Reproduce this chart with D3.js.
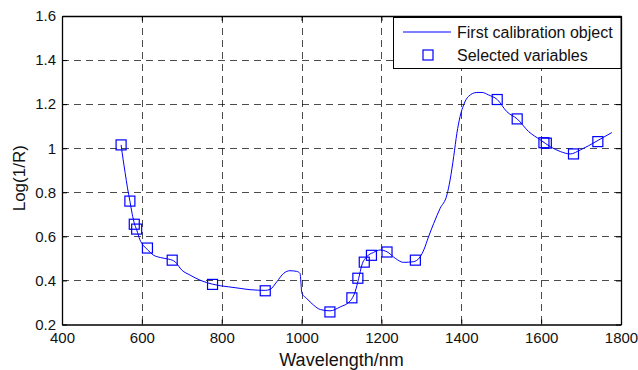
<!DOCTYPE html>
<html>
<head>
<meta charset="utf-8">
<script src="https://cdn.jsdelivr.net/npm/d3@7"></script>
<style>
  html, body { margin: 0; padding: 0; background: #fff; }
  svg { display: block; font-family: "Liberation Sans", Arial, sans-serif; }
</style>
</head>
<body>
<svg id="chart" width="638" height="370"></svg>
<script>
// Spectrum (wavelength nm, log(1/R))
const lineX = [548,553,558,564,570,576,581,587,595,604,614,629,646,666,676,683,700,721,746,777,796,817,846,871,909,921,938,955,971,988,996,1001,1013,1030,1047,1071,1097,1122,1134,1143,1151,1163,1180,1197,1214,1235,1255,1280,1297,1306,1318,1331,1347,1364,1372,1381,1389,1397,1406,1418,1439,1452,1468,1490,1514,1540,1569,1598,1623,1648,1673,1698,1740,1777];
const lineY = [1.015,0.95,0.89,0.82,0.76,0.70,0.66,0.63,0.585,0.558,0.540,0.515,0.504,0.497,0.492,0.485,0.447,0.424,0.401,0.383,0.376,0.371,0.364,0.358,0.355,0.359,0.394,0.432,0.444,0.441,0.432,0.341,0.318,0.288,0.268,0.262,0.280,0.307,0.348,0.409,0.470,0.507,0.527,0.538,0.530,0.500,0.482,0.485,0.507,0.538,0.598,0.659,0.727,0.788,0.856,0.962,1.068,1.144,1.197,1.235,1.253,1.253,1.242,1.221,1.166,1.133,1.075,1.038,1.007,0.985,0.974,0.992,1.033,1.071];
// Selected variables
const selX = [548,570,581,587,614,676,777,909,1071,1126,1141,1157,1175,1214,1285,1490,1540,1607,1613,1681,1742];
const selY = [1.015,0.760,0.655,0.633,0.547,0.492,0.382,0.353,0.257,0.321,0.410,0.483,0.514,0.529,0.492,1.221,1.133,1.025,1.023,0.974,1.030];
const xTicks = [400,600,800,1000,1200,1400,1600,1800];
const yTicks = [0.2,0.4,0.6,0.8,1,1.2,1.4,1.6];
const legendLabels = ["First calibration object", "Selected variables"];

const svg = d3.select("#chart");
const L = 62, R = 621, T = 16, B = 324.5;
const x = d3.scaleLinear().domain([400,1800]).range([L,R]);
const y = d3.scaleLinear().domain([0.2,1.6]).range([B,T]);

// grid
const grid = svg.append("g").attr("stroke","#000").attr("stroke-opacity",0.7)
  .attr("stroke-width",1).attr("stroke-dasharray","7,5").attr("fill","none");
xTicks.slice(1,-1).forEach(v => grid.append("line")
  .attr("x1",Math.round(x(v))+0.5).attr("x2",Math.round(x(v))+0.5).attr("y1",T).attr("y2",B));
yTicks.slice(1,-1).forEach(v => grid.append("line")
  .attr("y1",Math.round(y(v))+0.5).attr("y2",Math.round(y(v))+0.5).attr("x1",L).attr("x2",R));

// axes (MATLAB-like inward ticks on all sides)
const fmtY = d => d3.format("~g")(d);
const axB = svg.append("g").attr("transform",`translate(0,${B})`)
  .call(d3.axisBottom(x).tickValues(xTicks).tickSizeInner(-5).tickSizeOuter(0).tickPadding(8).tickFormat(d3.format("d")));
const axT = svg.append("g").attr("transform",`translate(0,${T})`)
  .call(d3.axisTop(x).tickValues(xTicks).tickSizeInner(-5).tickSizeOuter(0).tickFormat(""));
const axL = svg.append("g").attr("transform",`translate(${L},0)`)
  .call(d3.axisLeft(y).tickValues(yTicks).tickSizeInner(-5).tickSizeOuter(0).tickPadding(6).tickFormat(fmtY));
const axR = svg.append("g").attr("transform",`translate(${R},0)`)
  .call(d3.axisRight(y).tickValues(yTicks).tickSizeInner(-5).tickSizeOuter(0).tickFormat(""));
[axB,axT,axL,axR].forEach(g => {
  g.select(".domain").attr("stroke","#000").attr("stroke-width",1.3);
  g.selectAll(".tick line").attr("stroke","#000");
  g.selectAll("text").attr("font-size",15).attr("fill","#111").attr("font-family","Liberation Sans, Arial, sans-serif");
});

// line
const pts = lineX.map((v,i) => [v, lineY[i]]);
svg.append("path").datum(pts)
  .attr("fill","none").attr("stroke","#0000ff").attr("stroke-width",1)
  .attr("d", d3.line().x(d => x(d[0])).y(d => y(d[1])).curve(d3.curveMonotoneX));

// markers
const ms = 10;
svg.append("g").selectAll("rect").data(selX.map((v,i)=>[v,selY[i]])).join("rect")
  .attr("x", d => x(d[0]) - ms/2).attr("y", d => y(d[1]) - ms/2)
  .attr("width", ms).attr("height", ms)
  .attr("fill","none").attr("stroke","#0000ff").attr("stroke-width",1.2);

// axis titles
svg.append("text").attr("x",(L+R)/2).attr("y",366).attr("text-anchor","middle")
  .attr("font-size",18).attr("fill","#111").text("Wavelength/nm");
svg.append("text").attr("transform",`translate(25,${(T+B)/2 + 8}) rotate(-90)`).attr("text-anchor","middle")
  .attr("font-size",17).attr("fill","#111").text("Log(1/R)");

// legend
const lg = svg.append("g");
lg.append("rect").attr("x",393.5).attr("y",17.5).attr("width",R-393.5).attr("height",51)
  .attr("fill","#fff").attr("stroke","#000").attr("stroke-width",1);
lg.append("line").attr("x1",403).attr("x2",451).attr("y1",32).attr("y2",32)
  .attr("stroke","#0000ff").attr("stroke-width",1);
lg.append("rect").attr("x",428-ms/2).attr("y",55-ms/2).attr("width",ms).attr("height",ms)
  .attr("fill","none").attr("stroke","#0000ff").attr("stroke-width",1.2);
lg.selectAll("text").data(legendLabels).join("text")
  .attr("x",457).attr("y",(d,i)=> i===0 ? 38 : 61)
  .attr("font-size",16).attr("fill","#111").text(d=>d);
</script>
</body>
</html>
